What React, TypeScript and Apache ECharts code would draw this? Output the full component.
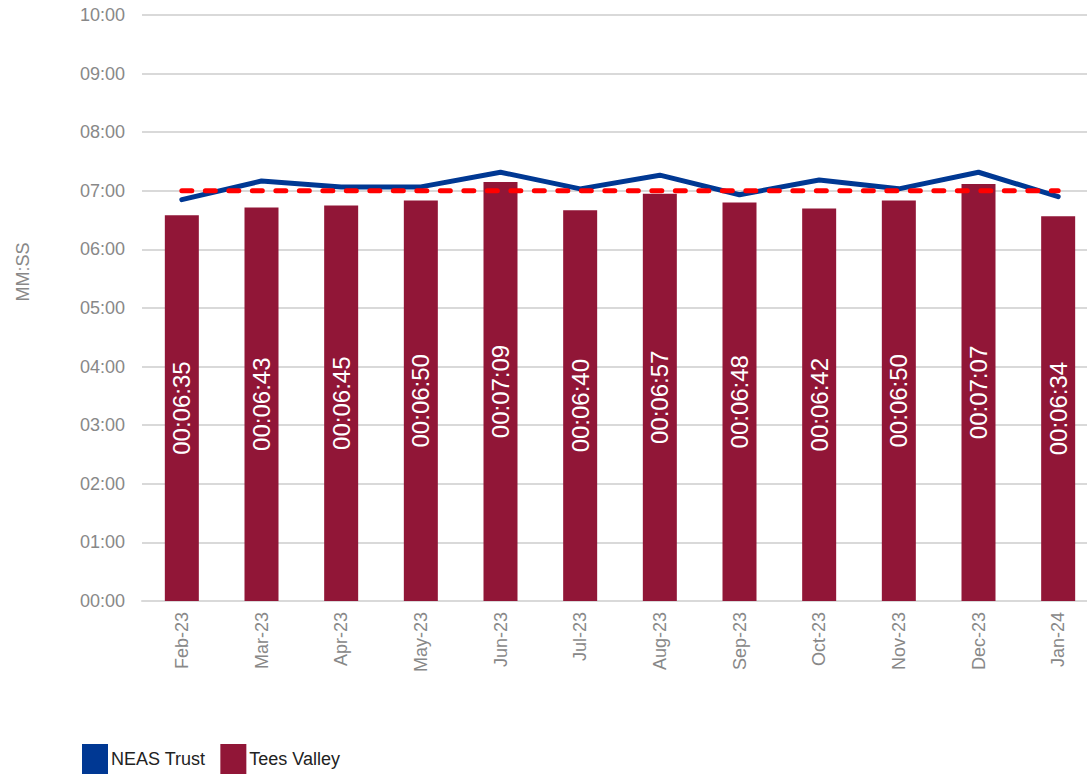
import React, { useEffect, useRef } from "react";
import * as echarts from "echarts";

const categories = ["Feb-23","Mar-23","Apr-23","May-23","Jun-23","Jul-23","Aug-23","Sep-23","Oct-23","Nov-23","Dec-23","Jan-24"];
// seconds
const teesValley = [395, 403, 405, 410, 429, 400, 417, 408, 402, 410, 427, 394];
const neasTrust = [411, 430, 424, 424, 439, 422, 436, 416, 431, 422, 439, 414];
const target = [420, 420, 420, 420, 420, 420, 420, 420, 420, 420, 420, 420];

const pad = (n: number) => String(n).padStart(2, "0");
const mmss = (v: number) => `${pad(Math.floor(v / 60))}:${pad(Math.round(v % 60))}`;
const hhmmss = (v: number) => `00:${pad(Math.floor(v / 60))}:${pad(Math.round(v % 60))}`;

export default function App() {
  const ref = useRef<HTMLDivElement>(null);
  useEffect(() => {
    const chart = echarts.init(ref.current!, null, { renderer: "svg" });
    chart.setOption({
      animation: false,
      textStyle: { fontFamily: "Liberation Sans" },
      grid: { left: 142, top: 15, width: 956, height: 586, containLabel: false },
      legend: {
        left: 82,
        bottom: 1,
        padding: 0,
        itemWidth: 26,
        itemHeight: 30,
        itemGap: 15,
        icon: "rect",
        textStyle: { fontSize: 18, color: "#222", padding: [0, 0, 0, -2] },
        data: ["NEAS Trust", "Tees Valley"],
      },
      graphic: [
        {
          type: "text",
          x: 23,
          y: 272,
          rotation: Math.PI / 2,
          style: {
            text: "MM:SS",
            fontSize: 18,
            fontFamily: "Liberation Sans",
            fill: "#888",
            align: "center",
            verticalAlign: "middle",
          },
        },
      ],
      xAxis: {
        type: "category",
        data: categories,
        axisLine: { lineStyle: { color: "#d9d9d9", width: 2 } },
        axisTick: { show: false },
        axisLabel: { rotate: 90, fontSize: 18, color: "#888", margin: 11 },
      },
      yAxis: {
        type: "value",
        min: 0,
        max: 600,
        interval: 60,
        axisLabel: { formatter: (v: number) => mmss(v), fontSize: 18, color: "#888", margin: 17 },
        splitLine: { lineStyle: { color: "#d9d9d9", width: 2 } },
        axisLine: { show: false },
        axisTick: { show: false },
      },
      series: [
        {
          name: "Tees Valley",
          type: "bar",
          data: teesValley,
          barWidth: 34,
          itemStyle: { color: "#911637" },
          label: {
            show: true,
            position: "inside",
            rotate: 90,
            color: "#fff",
            fontSize: 24,
            formatter: (p: any) => hhmmss(p.value),
          },
          z: 1,
        },
        {
          name: "NEAS Trust",
          type: "line",
          data: neasTrust,
          symbol: "none",
          lineStyle: { color: "#003893", width: 5, cap: "round", join: "round" },
          itemStyle: { color: "#003893" },
          z: 3,
        },
        {
          name: "Target",
          type: "line",
          data: target,
          symbol: "none",
          lineStyle: { color: "#ff0000", width: 5, type: [10, 13.5], cap: "round" },
          itemStyle: { color: "#ff0000" },
          z: 4,
        },
      ],
    });
    return () => chart.dispose();
  }, []);
  return (
    <div style={{ width: 1087, height: 775, position: "absolute", left: 0, top: 0, overflow: "hidden" }}>
      <div ref={ref} style={{ width: 1100, height: 775 }} />
    </div>
  );
}
